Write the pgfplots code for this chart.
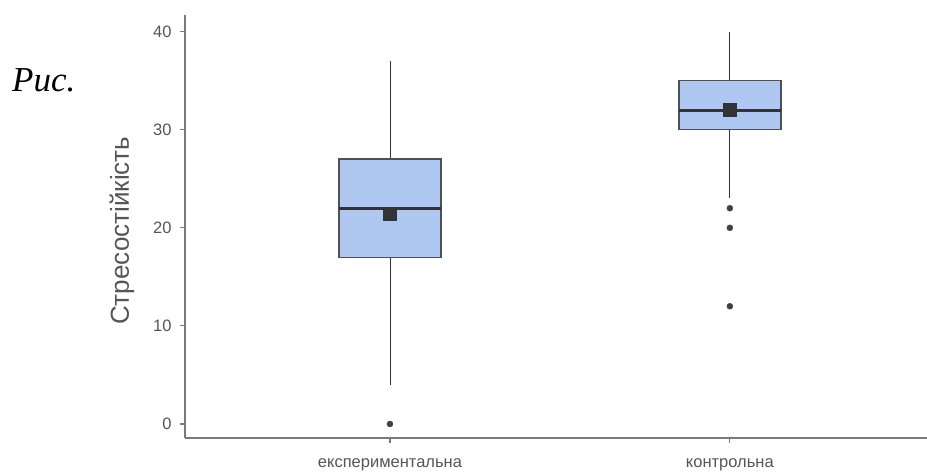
\documentclass[border=0pt]{standalone}
\usepackage{pgfplots}
\pgfplotsset{compat=1.18}
\usepackage{fontspec}
\setmainfont{Liberation Sans}
\newfontfamily\seriffont{Liberation Serif}
\definecolor{boxfill}{HTML}{AEC8F2}
\definecolor{boxline}{HTML}{333333}
\definecolor{boxedge}{HTML}{505050}
\definecolor{axisgray}{HTML}{7A7A7A}
\definecolor{ticklab}{HTML}{555555}
\definecolor{dotgray}{HTML}{404040}
\begin{document}
\begin{tikzpicture}
\useasboundingbox (0pt,0pt) rectangle (927pt,474pt);
\node[anchor=base west, inner sep=0pt] at (12pt,382pt) {\fontsize{35}{40}\selectfont\seriffont\itshape Рис.};
\begin{axis}[
  at={(185pt,36pt)}, anchor=south west,
  scale only axis, width=742pt, height=423pt,
  xmin=-0.603, xmax=1.58, ymin=-1.43, ymax=41.7,
  axis x line*=bottom, axis y line*=left,
  axis line style={-, draw=axisgray, line width=1.5pt},
  xtick={0,1}, xticklabels={експериментальна, контрольна},
  ytick={0,10,20,30,40},
  tick align=outside, major tick length=5pt,
  tick style={draw=axisgray, line width=1.2pt},
  ticklabel style={font=\fontsize{16.5}{19}\selectfont, text=ticklab},
  /pgf/number format/assume math mode=true,
  xticklabel style={yshift=-12pt},
  yticklabel style={xshift=-5pt},
  ylabel={Стресостійкість},
  ylabel style={at={(axis description cs:-0.085,0.49)}, anchor=center, font=\fontsize{26}{30}\selectfont, text=ticklab},
  clip=false,
]
% whiskers
\addplot[draw=boxline, line width=0.9pt, mark=none] coordinates {(0,4) (0,37)};
\addplot[draw=boxline, line width=0.9pt, mark=none] coordinates {(1,23) (1,40)};
% boxes
\addplot[draw=boxedge, fill=boxfill, line width=1.4pt, mark=none] coordinates {(-0.15,17) (0.15,17) (0.15,27) (-0.15,27)} -- cycle;
\addplot[draw=boxedge, fill=boxfill, line width=1.4pt, mark=none] coordinates {(0.85,30) (1.15,30) (1.15,35) (0.85,35)} -- cycle;
% medians
\addplot[draw=boxline, line width=3pt, mark=none] coordinates {(-0.15,22) (0.15,22)};
\addplot[draw=boxline, line width=3pt, mark=none] coordinates {(0.85,32) (1.15,32)};
% means
\addplot[only marks, mark=square*, mark size=6.5pt, color=boxline] coordinates {(0,21.43) (1,32.0)};
% outliers
\addplot[only marks, mark=*, mark size=3pt, color=dotgray] coordinates {(0,0) (1,22) (1,20) (1,12)};
\end{axis}
\end{tikzpicture}
\end{document}
